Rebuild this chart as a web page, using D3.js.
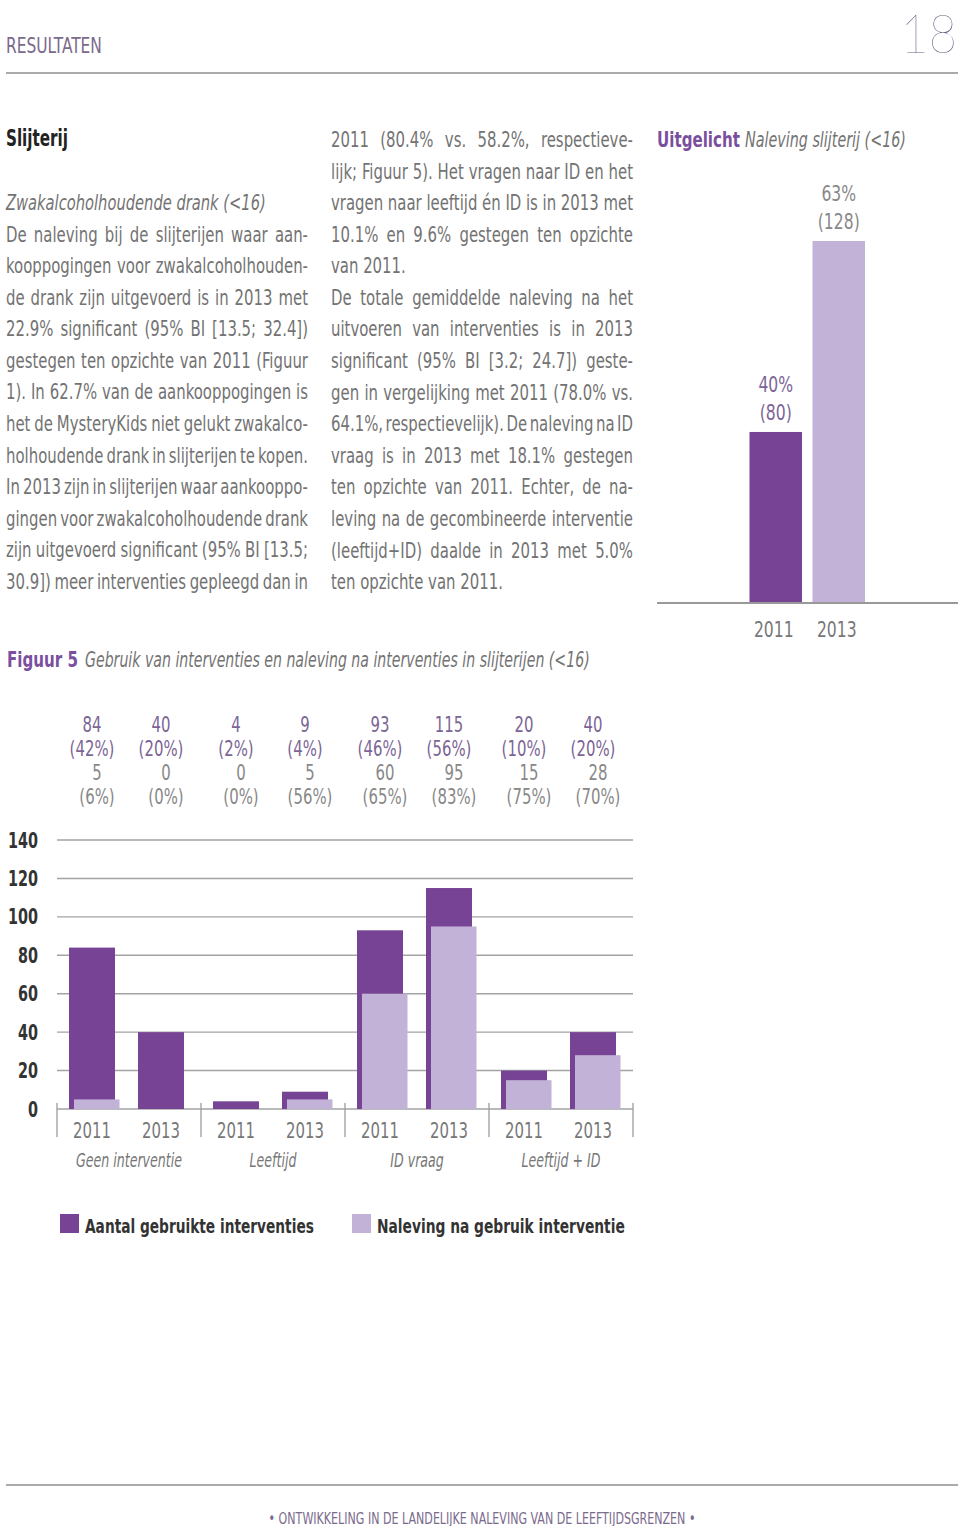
<!DOCTYPE html>
<html><head><meta charset="utf-8">
<script src="https://cdn.jsdelivr.net/npm/d3@7"></script>
<style>body{margin:0;background:#fff}svg{display:block}</style>
</head><body>
<svg id="c" width="960" height="1526"></svg>
<script>
// ---------- DATA ----------
const groups = ["Geen interventie", "Leeftijd", "ID vraag", "Leeftijd + ID"];
const years = ["2011", "2013"];
const gebruikt = [84, 40, 4, 9, 93, 115, 20, 40];
const gebruiktPct = ["42%", "20%", "2%", "4%", "46%", "56%", "10%", "20%"];
const naleving = [5, 0, 0, 5, 60, 95, 15, 28];
const nalevingPct = ["6%", "0%", "0%", "56%", "65%", "83%", "75%", "70%"];
const yTicks = [0, 20, 40, 60, 80, 100, 120, 140];
const legendLabels = ["Aantal gebruikte interventies", "Naleving na gebruik interventie"];

const uitYears = ["2011", "2013"];
const uitPct = [40, 63];
const uitN = [80, 128];

const leftLines = [
  "De naleving bij de slijterijen waar aan-",
  "kooppogingen voor zwakalcoholhouden-",
  "de drank zijn uitgevoerd is in 2013 met",
  "22.9% significant (95% BI [13.5; 32.4])",
  "gestegen ten opzichte van 2011 (Figuur",
  "1). In 62.7% van de aankooppogingen is",
  "het de MysteryKids niet gelukt zwakalco-",
  "holhoudende drank in slijterijen te kopen.",
  "In 2013 zijn in slijterijen waar aankooppo-",
  "gingen voor zwakalcoholhoudende drank",
  "zijn uitgevoerd significant (95% BI [13.5;",
  "30.9]) meer interventies gepleegd dan in"
];
const midLines = [
  ["2011 (80.4% vs. 58.2%, respectieve-", true],
  ["lijk; Figuur 5). Het vragen naar ID en het", true],
  ["vragen naar leeftijd én ID is in 2013 met", true],
  ["10.1% en 9.6% gestegen ten opzichte", true],
  ["van 2011.", false],
  ["De totale gemiddelde naleving na het", true],
  ["uitvoeren van interventies is in 2013", true],
  ["significant (95% BI [3.2; 24.7]) geste-", true],
  ["gen in vergelijking met 2011 (78.0% vs.", true],
  ["64.1%, respectievelijk). De naleving na ID", true],
  ["vraag is in 2013 met 18.1% gestegen", true],
  ["ten opzichte van 2011. Echter, de na-", true],
  ["leving na de gecombineerde interventie", true],
  ["(leeftijd+ID) daalde in 2013 met 5.0%", true],
  ["ten opzichte van 2011.", false]
];

// ---------- STYLE ----------
const NARROW = "'Liberation Sans Narrow','Arial Narrow','DejaVu Sans Condensed',sans-serif";
const DARK = "#774394", LIGHT = "#c3b2d7";
const BODY = "#737373", PURPLE_TXT = "#7c6596", GREY_TXT = "#888888";

const svg = d3.select("#c");

function natWidth(str, o = {}) {
  const t = svg.append("text").text(str)
    .attr("font-family", o.family || NARROW).attr("font-size", o.size || 21)
    .attr("font-weight", o.weight || 400).attr("font-style", o.style || "normal");
  const w = t.node().getComputedTextLength();
  t.remove();
  return w;
}

let K = 1;
// text helper: horizontally scaled by k (or fitted to o.fit width)
function txt(str, x, y, o = {}) {
  let k = o.k ?? K;
  if (o.fit) k = o.fit / natWidth(str, o);
  const g = svg.append("g").attr("transform", `translate(${x},${y}) scale(${k},1)`);
  const t = g.append("text").attr("x", 0).attr("y", 0).text(str)
    .attr("font-family", o.family || NARROW)
    .attr("font-size", o.size || 21)
    .attr("font-weight", o.weight || 400)
    .attr("font-style", o.style || "normal")
    .attr("fill", o.fill || BODY)
    .attr("text-anchor", o.anchor || "start");
  if (o.justify) {
    const nat = t.node().getComputedTextLength();
    const spaces = (str.match(/ /g) || []).length;
    const extra = o.justify / k - nat;
    if (spaces > 0) t.style("word-spacing", (extra / spaces) + "px");
  }
  return t;
}

// condensation factor for body text from a reference line width
K = Math.min(1, 172 / natWidth("ten opzichte van 2011."));

// ---------- HEADER / FOOTER ----------
txt("RESULTATEN", 6, 53, { size: 21, fill: "#7a6a8c", fit: 96 });
txt("18", 957, 53, { anchor: "end", family: "Lato, Roboto, 'Open Sans', sans-serif",
  weight: 100, size: 53, fill: "#6e5c82", k: 0.92 });
svg.append("line").attr("x1", 6).attr("x2", 958).attr("y1", 73).attr("y2", 73)
  .attr("stroke", "#aaaaaa").attr("stroke-width", 2);
svg.append("line").attr("x1", 6).attr("x2", 958).attr("y1", 1485).attr("y2", 1485)
  .attr("stroke", "#aaaaaa").attr("stroke-width", 2);
txt("• ONTWIKKELING IN DE LANDELIJKE NALEVING VAN DE LEEFTIJDSGRENZEN •", 482, 1524,
  { size: 15, fill: "#7a6a8c", anchor: "middle", fit: 427 });

// ---------- TEXT COLUMNS ----------
const LH = 31.58;
txt("Slijterij", 6, 146, { size: 23, weight: 700, fill: "#222", fit: 62 });
txt("Zwakalcoholhoudende drank (<16)", 6, 210, { style: "italic", fit: 260 });
leftLines.forEach((s, i) => txt(s, 6, 210 + LH * (i + 1), { justify: 302 }));
midLines.forEach(([s, j], i) => txt(s, 331, 147 + LH * i, j ? { justify: 302 } : {}));

// ---------- SIDEBAR CHART ----------
{
  txt("Uitgelicht", 657, 147, { size: 22, weight: 700, fill: "#7a4f9e", fit: 83 });
  txt("Naleving slijterij (<16)", 745, 147, { style: "italic", size: 21, fit: 161 });

  const xs = d3.scaleBand().domain(uitYears).range([749.5, 865]).paddingInner(1 / 6);
  const ys = d3.scaleLinear().domain([19.4, 63]).range([603, 241]);
  svg.append("g").selectAll("rect").data(uitYears).join("rect")
    .attr("x", d => xs(d)).attr("width", xs.bandwidth())
    .attr("y", (d, i) => ys(uitPct[i])).attr("height", (d, i) => ys.range()[0] - ys(uitPct[i]))
    .attr("fill", (d, i) => i === 0 ? DARK : LIGHT);
  svg.append("line").attr("x1", 657).attr("x2", 958).attr("y1", 603).attr("y2", 603)
    .attr("stroke", "#999").attr("stroke-width", 2);
  uitYears.forEach((d, i) => {
    const cx = xs(d) + xs.bandwidth() / 2;
    const col = i === 0 ? PURPLE_TXT : GREY_TXT;
    txt(uitPct[i] + "%", cx, ys(uitPct[i]) - 40, { anchor: "middle", fill: col, size: 22 });
    txt("(" + uitN[i] + ")", cx, ys(uitPct[i]) - 12, { anchor: "middle", fill: col, size: 22 });
    txt(d, cx - 2, 637, { anchor: "middle", fill: "#777", size: 22 });
  });
}

// ---------- MAIN CHART ----------
{
  txt("Figuur 5", 7, 667, { size: 21, weight: 700, fill: "#7a4f9e", fit: 71 });
  txt("Gebruik van interventies en naleving na interventies in slijterijen (<16)", 85, 667,
    { style: "italic", size: 21, fit: 505 });

  const x0 = d3.scaleBand().domain(groups).range([57, 633]);
  const x1 = d3.scaleBand().domain(years).range([12, 127]).paddingInner(1 / 3);
  const y = d3.scaleLinear().domain([0, 140]).range([1109, 840]);

  const cols = [];
  groups.forEach((g, gi) => years.forEach((yr, yi) => cols.push({ g, yr, i: gi * 2 + yi })));

  // gridlines
  svg.append("g").selectAll("line").data(yTicks).join("line")
    .attr("x1", x0.range()[0]).attr("x2", x0.range()[1])
    .attr("y1", d => y(d)).attr("y2", d => y(d))
    .attr("stroke", "#a3a3a3").attr("stroke-width", 1.4);
  // y labels
  const ky = 30 / natWidth("140", { size: 21, weight: 700 });
  yTicks.forEach(d => txt(String(d), 38, y(d) + 7.5,
    { anchor: "end", size: 21, weight: 700, fill: "#333", k: ky }));

  // group separators
  const seps = groups.map(g => x0(g)).concat([x0.range()[1]]);
  svg.append("g").selectAll("line").data(seps).join("line")
    .attr("x1", d => d).attr("x2", d => d).attr("y1", y(0) - 6).attr("y2", y(0) + 28)
    .attr("stroke", "#a3a3a3").attr("stroke-width", 1.4);

  // bars
  svg.append("g").selectAll("rect").data(cols).join("rect")
    .attr("x", d => x0(d.g) + x1(d.yr)).attr("width", x1.bandwidth())
    .attr("y", d => y(gebruikt[d.i])).attr("height", d => y(0) - y(gebruikt[d.i]))
    .attr("fill", DARK);
  svg.append("g").selectAll("rect").data(cols).join("rect")
    .attr("x", d => x0(d.g) + x1(d.yr) + 5).attr("width", x1.bandwidth() - 0.5)
    .attr("y", d => y(naleving[d.i])).attr("height", d => y(0) - y(naleving[d.i]))
    .attr("fill", LIGHT);

  // value labels
  cols.forEach(d => {
    const cxd = x0(d.g) + x1(d.yr) + x1.bandwidth() / 2;
    const cxl = cxd + 5;
    txt(String(gebruikt[d.i]), cxd, 732, { anchor: "middle", fill: PURPLE_TXT, size: 21 });
    txt("(" + gebruiktPct[d.i] + ")", cxd, 756, { anchor: "middle", fill: PURPLE_TXT, size: 21 });
    txt(String(naleving[d.i]), cxl, 780, { anchor: "middle", fill: GREY_TXT, size: 21 });
    txt("(" + nalevingPct[d.i] + ")", cxl, 804, { anchor: "middle", fill: GREY_TXT, size: 21 });
    txt(d.yr, cxd, 1138, { anchor: "middle", fill: "#777", size: 21 });
  });
  const kg = 106 / natWidth(groups[0], { size: 20, style: "italic" });
  groups.forEach(g => txt(g, x0(g) + x0.bandwidth() / 2, 1167,
    { anchor: "middle", fill: "#777", size: 20, style: "italic", k: kg }));

  // legend
  [DARK, LIGHT].forEach((c, i) => {
    const lx = [60, 352][i];
    svg.append("rect").attr("x", lx).attr("y", 1214).attr("width", 19).attr("height", 19).attr("fill", c);
    txt(legendLabels[i], lx + 25, 1233, { size: 20, weight: 700, fill: "#333", fit: [229, 248][i] });
  });
}
</script>
</body></html>
